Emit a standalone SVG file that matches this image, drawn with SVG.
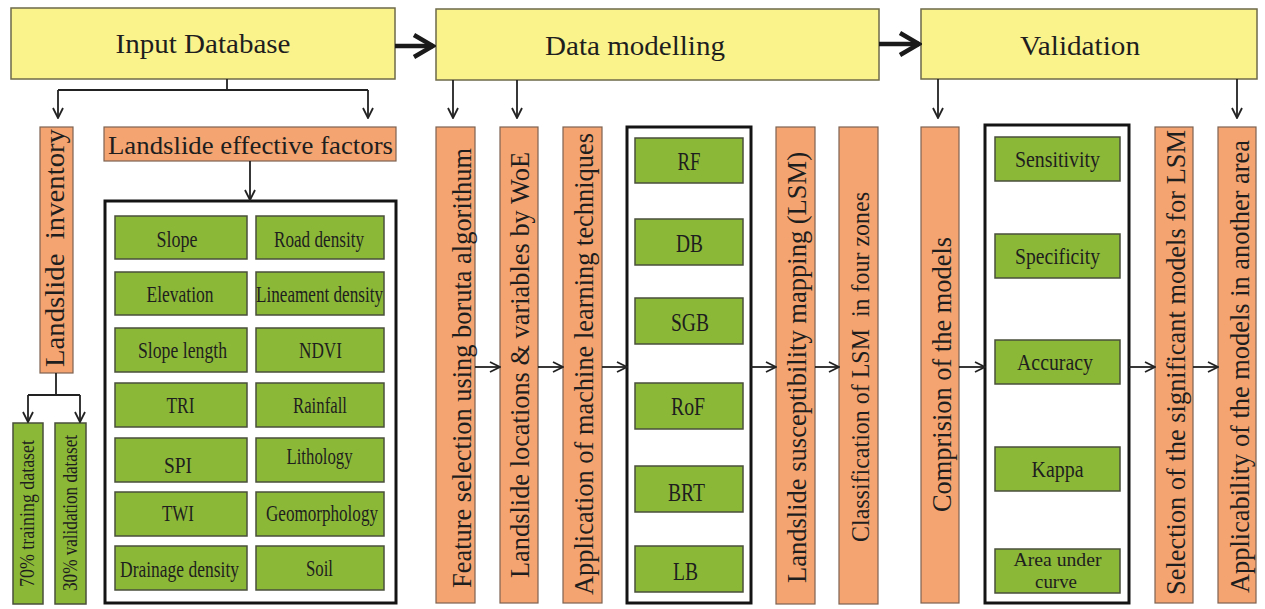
<svg xmlns="http://www.w3.org/2000/svg" width="1265" height="609" viewBox="0 0 1265 609">
  <style>
    text { font-family: "Liberation Serif", "Times New Roman", serif; fill: #1e1e1e; }
    .stage { fill: #faf38c; stroke: #6e6a4a; stroke-width: 1.5; }
    .step { fill: #f4a470; stroke: #7d6250; stroke-width: 1.2; }
    .item { fill: #8cb838; stroke: #4a4f3a; stroke-width: 1.5; }
    .frame { fill: #ffffff; stroke: #141414; stroke-width: 3; }
    .title { font-size: 27px; text-anchor: middle; }
    .vt { font-size: 27px; text-anchor: middle; }
    .cell { font-size: 24px; text-anchor: middle; }
    .wire { fill: none; stroke: #222; stroke-width: 1.8; }
    .arrow { fill: none; stroke: #222; stroke-width: 1.8; marker-end: url(#tip); }
    .bold-arrow { fill: none; stroke: #1a1a1a; stroke-width: 4.5; marker-end: url(#bigtip); }
  </style>
  <defs>
    <marker id="tip" viewBox="0 0 12 12" refX="11" refY="6" markerWidth="12" markerHeight="12" markerUnits="userSpaceOnUse" orient="auto">
      <path d="M1,1 L11,6 L1,11" fill="none" stroke="#222" stroke-width="1.8"/>
    </marker>
    <marker id="bigtip" viewBox="0 0 24 26" refX="21" refY="13" markerWidth="24" markerHeight="26" markerUnits="userSpaceOnUse" orient="auto">
      <path d="M2,2 L21,13 L2,24" fill="none" stroke="#1a1a1a" stroke-width="4.5"/>
    </marker>
  </defs>

  <rect width="1265" height="609" fill="#ffffff"/>

  <!-- Stage headers -->
  <g id="input-database">
    <rect class="stage" x="11" y="8" width="384" height="71"/>
    <text class="title" x="203" y="53" textLength="175" lengthAdjust="spacingAndGlyphs">Input Database</text>
  </g>
  <g id="data-modelling">
    <rect class="stage" x="436" y="9" width="443" height="71"/>
    <text class="title" x="635" y="55" textLength="180" lengthAdjust="spacingAndGlyphs">Data modelling</text>
  </g>
  <g id="validation">
    <rect class="stage" x="921" y="9" width="336" height="70"/>
    <text class="title" x="1080" y="55" textLength="120" lengthAdjust="spacingAndGlyphs">Validation</text>
  </g>

  <!-- Input database branch -->
  <g id="landslide-inventory">
    <rect class="step" x="40" y="127" width="33" height="246"/>
    <text class="vt" font-size="26" transform="translate(64,248) rotate(-90)" textLength="238" lengthAdjust="spacingAndGlyphs" xml:space="preserve">Landslide  inventory</text>
  </g>
  <g id="training-dataset">
    <rect class="item" x="13" y="423" width="30" height="181"/>
    <text class="vt" style="font-size:20px" transform="translate(34,513.5) rotate(-90)" textLength="147" lengthAdjust="spacingAndGlyphs">70% training dataset</text>
  </g>
  <g id="validation-dataset">
    <rect class="item" x="55" y="423" width="31" height="181"/>
    <text class="vt" style="font-size:20px" transform="translate(77,513) rotate(-90)" textLength="156" lengthAdjust="spacingAndGlyphs">30% validation dataset</text>
  </g>
  <g id="effective-factors">
    <rect class="step" x="104" y="127" width="292" height="34"/>
    <text class="title" style="font-size:26px" x="250.5" y="154" textLength="285" lengthAdjust="spacingAndGlyphs">Landslide effective factors</text>
  </g>

  <!-- Conditioning factor table -->
  <g id="factor-table">
    <rect class="frame" x="105" y="201" width="291" height="402"/>
    <g id="factor-slope"><rect class="item" x="115" y="216" width="132" height="43"/><text class="cell" x="177" y="247" textLength="41" lengthAdjust="spacingAndGlyphs">Slope</text></g>
    <g id="factor-road"><rect class="item" x="256" y="216" width="128" height="43"/><text class="cell" x="319" y="247" textLength="90" lengthAdjust="spacingAndGlyphs">Road density</text></g>
    <g id="factor-elevation"><rect class="item" x="115" y="272" width="132" height="43"/><text class="cell" x="180" y="302" textLength="67" lengthAdjust="spacingAndGlyphs">Elevation</text></g>
    <g id="factor-lineament"><rect class="item" x="256" y="272" width="128" height="43"/><text class="cell" x="319.5" y="302" textLength="127" lengthAdjust="spacingAndGlyphs">Lineament density</text></g>
    <g id="factor-slope-length"><rect class="item" x="115" y="328" width="132" height="44"/><text class="cell" x="182.5" y="358" textLength="89" lengthAdjust="spacingAndGlyphs">Slope length</text></g>
    <g id="factor-ndvi"><rect class="item" x="256" y="328" width="128" height="44"/><text class="cell" x="320.5" y="358" textLength="43" lengthAdjust="spacingAndGlyphs">NDVI</text></g>
    <g id="factor-tri"><rect class="item" x="115" y="383" width="132" height="44"/><text class="cell" x="180.5" y="413" textLength="28" lengthAdjust="spacingAndGlyphs">TRI</text></g>
    <g id="factor-rainfall"><rect class="item" x="256" y="383" width="128" height="44"/><text class="cell" x="320" y="413" textLength="54" lengthAdjust="spacingAndGlyphs">Rainfall</text></g>
    <g id="factor-spi"><rect class="item" x="115" y="438" width="132" height="44"/><text class="cell" x="178" y="473" textLength="28" lengthAdjust="spacingAndGlyphs">SPI</text></g>
    <g id="factor-lithology"><rect class="item" x="256" y="438" width="128" height="44"/><text class="cell" x="319.5" y="464" textLength="66" lengthAdjust="spacingAndGlyphs">Lithology</text></g>
    <g id="factor-twi"><rect class="item" x="115" y="492" width="132" height="44"/><text class="cell" x="178" y="521" textLength="32" lengthAdjust="spacingAndGlyphs">TWI</text></g>
    <g id="factor-geomorphology"><rect class="item" x="256" y="492" width="128" height="44"/><text class="cell" x="322" y="521" textLength="112" lengthAdjust="spacingAndGlyphs">Geomorphology</text></g>
    <g id="factor-drainage"><rect class="item" x="115" y="546" width="132" height="44"/><text class="cell" x="179.5" y="577" textLength="119" lengthAdjust="spacingAndGlyphs">Drainage density</text></g>
    <g id="factor-soil"><rect class="item" x="256" y="546" width="128" height="44"/><text class="cell" x="319.5" y="576" textLength="27" lengthAdjust="spacingAndGlyphs">Soil</text></g>
  </g>

  <!-- Data modelling steps -->
  <g id="feature-selection">
    <rect class="step" x="436" y="127" width="39" height="476"/>
    <text class="vt" transform="translate(471,368) rotate(-90)" textLength="440" lengthAdjust="spacingAndGlyphs">Feature selection using boruta algorithum</text>
  </g>
  <g id="landslide-locations">
    <rect class="step" x="500" y="127" width="38" height="476"/>
    <text class="vt" transform="translate(529,365) rotate(-90)" textLength="426" lengthAdjust="spacingAndGlyphs">Landslide locations &amp; variables by WoE</text>
  </g>
  <g id="ml-application">
    <rect class="step" x="563" y="127" width="39" height="476"/>
    <text class="vt" transform="translate(593,364) rotate(-90)" textLength="462" lengthAdjust="spacingAndGlyphs">Application of machine learning techniques</text>
  </g>
  <g id="model-set">
    <rect class="frame" x="627" y="127" width="124" height="476"/>
    <g id="model-rf"><rect class="item" x="635" y="138" width="108" height="45"/><text class="cell" style="font-size:25px" x="689" y="170" textLength="23" lengthAdjust="spacingAndGlyphs">RF</text></g>
    <g id="model-db"><rect class="item" x="635" y="219" width="108" height="46"/><text class="cell" style="font-size:25px" x="689.5" y="252" textLength="27" lengthAdjust="spacingAndGlyphs">DB</text></g>
    <g id="model-sgb"><rect class="item" x="635" y="298" width="108" height="46"/><text class="cell" style="font-size:25px" x="690" y="331" textLength="38" lengthAdjust="spacingAndGlyphs">SGB</text></g>
    <g id="model-rof"><rect class="item" x="635" y="383" width="108" height="46"/><text class="cell" style="font-size:25px" x="688" y="415" textLength="34" lengthAdjust="spacingAndGlyphs">RoF</text></g>
    <g id="model-brt"><rect class="item" x="635" y="466" width="108" height="46"/><text class="cell" style="font-size:25px" x="686.5" y="501" textLength="37" lengthAdjust="spacingAndGlyphs">BRT</text></g>
    <g id="model-lb"><rect class="item" x="635" y="546" width="108" height="46"/><text class="cell" style="font-size:25px" x="685.5" y="580" textLength="25" lengthAdjust="spacingAndGlyphs">LB</text></g>
  </g>
  <g id="lsm-mapping">
    <rect class="step" x="776" y="127" width="39" height="477"/>
    <text class="vt" transform="translate(806,367.5) rotate(-90)" textLength="431" lengthAdjust="spacingAndGlyphs">Landslide susceptibility mapping (LSM)</text>
  </g>
  <g id="lsm-classification">
    <rect class="step" x="839" y="127" width="39" height="477"/>
    <text class="vt" style="font-size:25px" transform="translate(869,367) rotate(-90)" textLength="350" lengthAdjust="spacingAndGlyphs" xml:space="preserve">Classification of LSM  in four zones</text>
  </g>

  <!-- Validation steps -->
  <g id="model-comparison">
    <rect class="step" x="921" y="127" width="38" height="476"/>
    <text class="vt" transform="translate(951,374.5) rotate(-90)" textLength="275" lengthAdjust="spacingAndGlyphs">Comprision of the models</text>
  </g>
  <g id="metric-set">
    <rect class="frame" x="985" y="125" width="144" height="478"/>
    <g id="metric-sensitivity"><rect class="item" x="995" y="137" width="125" height="44"/><text class="cell" x="1057.5" y="167" textLength="85" lengthAdjust="spacingAndGlyphs">Sensitivity</text></g>
    <g id="metric-specificity"><rect class="item" x="995" y="234" width="125" height="44"/><text class="cell" x="1057.5" y="264" textLength="85" lengthAdjust="spacingAndGlyphs">Specificity</text></g>
    <g id="metric-accuracy"><rect class="item" x="995" y="340" width="125" height="44"/><text class="cell" x="1055" y="370" textLength="76" lengthAdjust="spacingAndGlyphs">Accuracy</text></g>
    <g id="metric-kappa"><rect class="item" x="995" y="447" width="125" height="44"/><text class="cell" x="1057.5" y="477" textLength="52" lengthAdjust="spacingAndGlyphs">Kappa</text></g>
    <g id="metric-auc"><rect class="item" x="995" y="549" width="125" height="44"/>
      <text class="cell" style="font-size:19px" x="1057.5" y="566" textLength="88" lengthAdjust="spacingAndGlyphs">Area under</text>
      <text class="cell" style="font-size:19px" x="1056" y="588" textLength="42" lengthAdjust="spacingAndGlyphs">curve</text>
    </g>
  </g>
  <g id="model-selection">
    <rect class="step" x="1155" y="127" width="38" height="476"/>
    <text class="vt" transform="translate(1185,362.5) rotate(-90)" textLength="465" lengthAdjust="spacingAndGlyphs">Selection of the significant models for LSM</text>
  </g>
  <g id="applicability">
    <rect class="step" x="1218" y="127" width="38" height="476"/>
    <text class="vt" transform="translate(1249,366.5) rotate(-90)" textLength="453" lengthAdjust="spacingAndGlyphs">Applicability of the models in another area</text>
  </g>

  <!-- Connectors -->
  <g id="connectors">
    <path class="bold-arrow" d="M395,46 H433"/>
    <path class="bold-arrow" d="M879,44 H919"/>

    <path class="wire" d="M227,79 V90 M58,90 H368"/>
    <path class="arrow" d="M58,90 V118"/>
    <path class="arrow" d="M368,90 V118"/>
    <path class="arrow" d="M250,161 V200"/>

    <path class="wire" d="M56,373 V395 M28,395 H80"/>
    <path class="arrow" d="M28,395 V422"/>
    <path class="arrow" d="M80,395 V422"/>

    <path class="arrow" d="M453,80 V118"/>
    <path class="arrow" d="M517,80 V118"/>
    <path class="arrow" d="M938,79 V118"/>
    <path class="arrow" d="M1237,79 V118"/>

    <path class="arrow" d="M475,367 H500"/>
    <path class="arrow" d="M538,367 H563"/>
    <path class="arrow" d="M602,367 H627"/>
    <path class="arrow" d="M751,367 H776"/>
    <path class="arrow" d="M815,367 H839"/>
    <path class="arrow" d="M959,367 H985"/>
    <path class="arrow" d="M1129,367 H1155"/>
    <path class="arrow" d="M1193,367 H1218"/>
  </g>
</svg>
